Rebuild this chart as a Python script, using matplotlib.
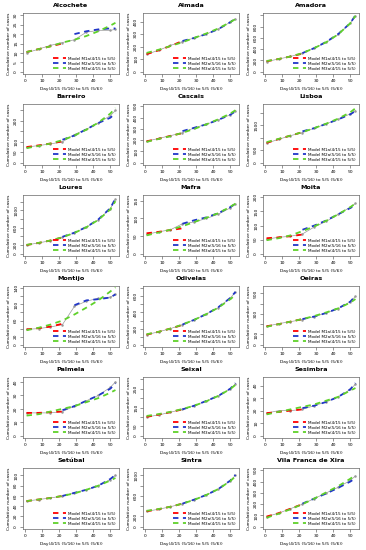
import numpy as np
import matplotlib.pyplot as plt

nan = np.nan

days = [1, 8, 15, 22, 29, 36, 43, 50, 53]

regions = ['Alcochete', 'Almada', 'Amadora',
           'Barreiro', 'Cascais', 'Lisboa',
           'Loures', 'Mafra', 'Moita',
           'Montijo', 'Odivelas', 'Oeiras',
           'Palmela', 'Seixal', 'Sesimbra',
           'Setúbal', 'Sintra', 'Vila Franca de Xira']

ymax = [30, 450, 1000, 270, 500, 2250, 1300, 160, 200,
        140, 700, 550, 42, 300, 45, 110, 1100, 500]
ystep = [5, 100, 200, 50, 100, 500, 200, 50, 50,
         20, 100, 100, 10, 50, 10, 20, 200, 100]

observed = [
    [10, 12, 14, 15.5, 17, 21, 22, 22, 22.5],
    [140, 170, 210, 240, 270, 300, 340, 395, 420],
    [180, 225, 270, 330, 420, 520, 660, 860, 990],
    [75, 82, 90, 100, 135, 160, 190, 225, 250],
    [190, 215, 240, 265, 310, 340, 380, 425, 455],
    [780, 930, 1080, 1200, 1380, 1550, 1730, 1950, 2080],
    [200, 250, 300, 380, 480, 610, 780, 1040, 1250],
    [55, 62, 68, 85, 90, 100, 112, 130, 140],
    [52, 58, 62, 70, 95, 115, 140, 165, 178],
    [38, 40, 44, 50, 95, 108, 115, 118, 125],
    [125, 160, 200, 250, 310, 380, 460, 580, 650],
    [180, 205, 225, 245, 275, 310, 350, 420, 470],
    [17, 17, 17, 18, 22, 26, 30, 36, 40],
    [100, 110, 125, 140, 160, 185, 210, 250, 275],
    [18, 20, 20, 21, 24, 27, 31, 37, 41],
    [50, 53, 56, 60, 66, 72, 80, 92, 100],
    [300, 340, 390, 450, 530, 620, 730, 900, 1000],
    [90, 120, 160, 200, 250, 300, 350, 410, 450],
]

model_m1 = [
    [10.5, 12, 13.5, 15, nan, nan, nan, nan, nan],
    [140, 170, 205, 245, nan, nan, nan, nan, nan],
    [185, 225, 270, 320, nan, nan, nan, nan, nan],
    [75, 83, 92, 102, nan, nan, nan, nan, nan],
    [190, 212, 238, 262, nan, nan, nan, nan, nan],
    [790, 940, 1080, 1220, nan, nan, nan, nan, nan],
    [200, 248, 305, 375, nan, nan, nan, nan, nan],
    [58, 62, 67, 72, nan, nan, nan, nan, nan],
    [55, 58, 62, 68, nan, nan, nan, nan, nan],
    [38, 41, 45, 52, nan, nan, nan, nan, nan],
    [125, 160, 200, 245, nan, nan, nan, nan, nan],
    [180, 200, 225, 250, nan, nan, nan, nan, nan],
    [17, 17, 17.5, 18, nan, nan, nan, nan, nan],
    [100, 112, 125, 140, nan, nan, nan, nan, nan],
    [18, 19, 20, 21, nan, nan, nan, nan, nan],
    [50, 53, 56, 60, nan, nan, nan, nan, nan],
    [300, 340, 390, 450, nan, nan, nan, nan, nan],
    [90, 120, 160, 200, nan, nan, nan, nan, nan],
]

model_m2 = [
    [nan, nan, nan, nan, 20, 21.5, 22.5, 23, 23],
    [nan, nan, nan, 245, 270, 300, 340, 395, 425],
    [nan, nan, nan, 330, 420, 530, 670, 860, 1000],
    [nan, nan, nan, 110, 130, 160, 190, 215, 237],
    [nan, nan, nan, 280, 310, 340, 380, 425, 455],
    [nan, nan, nan, 1250, 1380, 1550, 1730, 1930, 2060],
    [nan, nan, nan, 390, 485, 615, 790, 1050, 1270],
    [nan, nan, nan, 85, 95, 103, 115, 132, 142],
    [nan, nan, nan, 85, 100, 118, 140, 162, 175],
    [nan, nan, nan, nan, 98, 110, 113, 117, 125],
    [nan, nan, nan, 250, 310, 380, 465, 580, 655],
    [nan, nan, nan, 250, 275, 310, 355, 420, 475],
    [nan, nan, nan, 19, 22, 26, 30, 35, 39],
    [nan, nan, nan, 140, 160, 185, 212, 250, 280],
    [nan, nan, nan, 22, 24, 27, 31, 37, 42],
    [nan, nan, nan, 60, 66, 72, 80, 93, 101],
    [nan, nan, nan, 450, 530, 620, 735, 900, 1010],
    [nan, nan, nan, 205, 250, 295, 345, 400, 430],
]

model_m3 = [
    [10.5, 12, 13.5, 15.5, 17, 19, 21.5, 24.5, 26],
    [150, 175, 205, 235, 270, 305, 345, 395, 420],
    [190, 225, 270, 330, 420, 525, 665, 860, 990],
    [70, 80, 92, 108, 130, 158, 192, 235, 262],
    [185, 210, 235, 265, 300, 340, 385, 435, 465],
    [820, 950, 1080, 1220, 1380, 1560, 1760, 2010, 2170],
    [205, 250, 305, 380, 480, 610, 780, 1020, 1210],
    [52, 60, 68, 78, 90, 102, 115, 133, 142],
    [48, 55, 65, 80, 97, 117, 140, 165, 178],
    [36, 42, 50, 60, 75, 92, 110, 132, 142],
    [130, 160, 200, 250, 310, 380, 460, 565, 615],
    [175, 200, 225, 250, 280, 315, 355, 410, 445],
    [15, 16, 18, 20, 22, 25, 28, 32, 34],
    [105, 115, 127, 142, 160, 183, 212, 248, 270],
    [17, 19, 21, 23, 25, 28, 31, 36, 38],
    [50, 53, 56, 60, 65, 72, 80, 90, 95],
    [310, 345, 390, 450, 525, 620, 735, 890, 980],
    [80, 115, 155, 200, 250, 305, 360, 425, 460],
]

labels = ['Model M1a(4/15 to 5/5)', 'Model M2a(5/16 to 5/5)', 'Model M3a(4/15 to 5/5)']
colors = ['#ff0000', '#2036c8', '#5fd12a']


def shown_labels(ticks, lo, hi, h_px, charw=2.8):
    # drop tick labels that would overlap, the way R does it
    out = []
    last_end = -1e9
    for t in ticks:
        s = '%g' % t
        pos = (t - lo) / (hi - lo) * h_px
        half = len(s) * charw / 2
        if pos - half > last_end + charw:
            out.append(s)
            last_end = pos + half
        else:
            out.append('')
    return out


W, H = 366, 550
fig = plt.figure(figsize=(W / 100, H / 100), dpi=100)

lefts = [23, 143, 263]
aw, ah = 96, 61

for i, name in enumerate(regions):
    r, c = divmod(i, 3)
    top = 13 + 91 * r
    ax = fig.add_axes([lefts[c] / W, 1 - (top + ah) / H, aw / W, ah / H])

    ax.plot(days, observed[i], color='#999999', lw=0.5, marker='o', ms=0.8)
    for m, col, lab in zip([model_m1[i], model_m2[i], model_m3[i]], colors, labels):
        ax.plot(days, m, color=col, lw=1.3, ls=(0, (3, 2.5)), label=lab)

    lo, hi = 0, ymax[i]
    pad = 0.04 * (hi - lo)
    ax.set_ylim(lo - pad, hi + pad)
    ax.set_xlim(1 - 0.04 * 52, 53 + 0.04 * 52)
    ax.set_xticks([0, 10, 20, 30, 40, 50])
    yt = np.arange(0, hi + 0.01, ystep[i])
    ax.set_yticks(yt)
    ax.set_yticklabels(shown_labels(yt, lo - pad, hi + pad, ah), rotation=90, va='center')

    ax.tick_params(labelsize=3.2, length=2, width=0.4, pad=1.5, color='#444444')
    for s in ax.spines.values():
        s.set_linewidth(0.5)
        s.set_color('#666666')

    ax.set_title(name, fontsize=4.6, fontweight='bold', pad=4)
    ax.set_xlabel('Day(4/15 (5/16) to 5/5 (5/6))', fontsize=3.2, labelpad=3)
    ax.set_ylabel('Cumulative number of cases', fontsize=3.2, labelpad=2)
    ax.legend(loc='lower right', frameon=False, fontsize=3, handlelength=3,
              labelspacing=0.25, borderaxespad=0.4, handletextpad=0.5)

fig.savefig('out.png', dpi=100)
